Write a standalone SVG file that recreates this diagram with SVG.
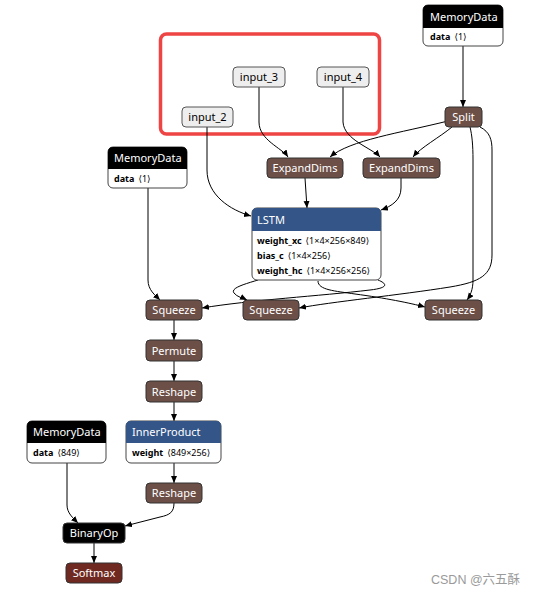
<svg xmlns="http://www.w3.org/2000/svg" width="546" height="597" viewBox="0 0 546 597">
<style>
text{font-family:"Noto Sans","DejaVu Sans",sans-serif;}
.t{font-size:11px;fill:#fff;text-anchor:middle;}
.th{font-size:11px;fill:#fff;}
.ti{font-size:11px;fill:#000;text-anchor:middle;}
.a{font-size:9px;fill:#000;}
.a tspan.b{font-weight:bold;}
.n{stroke:#333;stroke-width:1;}
.brown{fill:#6c4f47;}
.blk{fill:#000;}
.blue{fill:#335588;}
.red{fill:#702921;}
.inp{fill:#eee;stroke:#555;stroke-width:1;}
.body{fill:#fff;stroke:#444;stroke-width:1;}
.e{fill:none;stroke:#000;stroke-width:1;marker-end:url(#ah);}
</style>
<defs>
<marker id="ah" markerUnits="userSpaceOnUse" markerWidth="8" markerHeight="7" refX="7" refY="3" orient="auto">
<path d="M0,0 L7,3 L0,6 z" fill="#000"/>
</marker>
</defs>
<rect x="160.5" y="34" width="219" height="100" rx="6" fill="none" stroke="#ee4444" stroke-width="3.5"/>
<g id="edges">
<path class="e" d="M463,46 L463,107"/>
<path class="e" d="M259,87 L259,122 C259,140 282,148 288,157"/>
<path class="e" d="M343,87 L343,122 C344,140 372,148 380,157"/>
<path class="e" d="M448,121 C400,133 350,140 330,157"/>
<path class="e" d="M452,127 C440,137 420,148 413,157"/>
<path class="e" d="M305,178 L307,208"/>
<path class="e" d="M401,178 L401,188 C401,200 392,206 381,210"/>
<path class="e" d="M207,127 L207,170 C207,195 230,210 251,216"/>
<path class="e" d="M148,188 L148,280 C148,290 155,295 160,300"/>
<path class="e" d="M258,280 C245,284 230,288 234,293 C237,297 243,298 247,300"/>
<path class="e" d="M318,281 C318,290 335,291 355,294 C385,298 410,303 425,307"/>
<path class="e" d="M378,280 C388,284 388,288 370,290 C320,296 250,300 202,308"/>
<path class="e" d="M480,127 C490,132 492,140 492,150 L492,255 C492,275 480,282 450,287 C400,295 330,302 299,308"/>
<path class="e" d="M470,127 C472,135 473,145 473,160 L473,280 C473,290 470,296 467,300"/>
<path class="e" d="M174,320 L174,340"/>
<path class="e" d="M174,361 L174,381"/>
<path class="e" d="M174,402 L174,421"/>
<path class="e" d="M174,463 L174,483"/>
<path class="e" d="M67,463 L67,505 C67,513 73,518 78,523"/>
<path class="e" d="M174,503 C174,512 170,515 160,517 L125,526"/>
<path class="e" d="M94,543 L94,563"/>
</g>
<g id="md_top">
<rect class="body" x="423" y="5" width="80" height="41" rx="5"/>
<path class="blk" d="M423,28 V10 Q423,5 428,5 H498 Q503,5 503,10 V28 Z"/>
<text class="th" x="430" y="20.5">MemoryData</text>
<text class="a" x="430" y="40"><tspan class="b">data</tspan><tspan dx="4">⟨1⟩</tspan></text>
</g>
<g id="input_3"><rect class="inp" x="233" y="67" width="52" height="20" rx="4"/><text class="ti" x="259" y="81">input_3</text></g>
<g id="input_4"><rect class="inp" x="317" y="67" width="52" height="20" rx="4"/><text class="ti" x="343" y="81">input_4</text></g>
<g id="input_2"><rect class="inp" x="182" y="107" width="51" height="20" rx="4"/><text class="ti" x="207.5" y="121">input_2</text></g>
<g id="split"><rect class="n brown" x="445" y="107" width="37" height="20" rx="4"/><text class="t" x="463.5" y="121">Split</text></g>
<g id="md_left">
<rect class="body" x="108" y="147" width="79" height="41" rx="5"/>
<path class="blk" d="M108,169 V152 Q108,147 113,147 H182 Q187,147 187,152 V169 Z"/>
<text class="th" x="114" y="162">MemoryData</text>
<text class="a" x="114" y="182"><tspan class="b">data</tspan><tspan dx="4">⟨1⟩</tspan></text>
</g>
<g id="expand1"><rect class="n brown" x="267" y="158" width="76" height="20" rx="4"/><text class="t" x="305" y="172">ExpandDims</text></g>
<g id="expand2"><rect class="n brown" x="363" y="158" width="77" height="20" rx="4"/><text class="t" x="401.5" y="172">ExpandDims</text></g>
<g id="lstm">
<rect class="body" x="252" y="208" width="129" height="72" rx="5"/>
<path class="blue" d="M252,231 V213 Q252,208 257,208 H376 Q381,208 381,213 V231 Z"/>
<text class="th" x="257" y="223.5">LSTM</text>
<text class="a" x="257" y="243.5"><tspan class="b">weight_xc</tspan><tspan dx="4">⟨1×4×256×849⟩</tspan></text>
<text class="a" x="257" y="258.5"><tspan class="b">bias_c</tspan><tspan dx="4">⟨1×4×256⟩</tspan></text>
<text class="a" x="257" y="274"><tspan class="b">weight_hc</tspan><tspan dx="4">⟨1×4×256×256⟩</tspan></text>
</g>
<g id="squeeze1"><rect class="n brown" x="146" y="300" width="56" height="20" rx="4"/><text class="t" x="174" y="314">Squeeze</text></g>
<g id="squeeze2"><rect class="n brown" x="243" y="300" width="56" height="20" rx="4"/><text class="t" x="271" y="314">Squeeze</text></g>
<g id="squeeze3"><rect class="n brown" x="425" y="300" width="57" height="20" rx="4"/><text class="t" x="453.5" y="314">Squeeze</text></g>
<g id="permute"><rect class="n brown" x="146" y="340" width="56" height="21" rx="4"/><text class="t" x="174" y="354.5">Permute</text></g>
<g id="reshape1"><rect class="n brown" x="146" y="381" width="56" height="21" rx="4"/><text class="t" x="174" y="395.5">Reshape</text></g>
<g id="md_bottom">
<rect class="body" x="27" y="421" width="79" height="42" rx="5"/>
<path class="blk" d="M27,443 V426 Q27,421 32,421 H101 Q106,421 106,426 V443 Z"/>
<text class="th" x="33" y="436">MemoryData</text>
<text class="a" x="33" y="456"><tspan class="b">data</tspan><tspan dx="4">⟨849⟩</tspan></text>
</g>
<g id="innerproduct">
<rect class="body" x="126" y="421" width="95" height="42" rx="5"/>
<path class="blue" d="M126,443 V426 Q126,421 131,421 H216 Q221,421 221,426 V443 Z"/>
<text class="th" x="132" y="436">InnerProduct</text>
<text class="a" x="132" y="456"><tspan class="b">weight</tspan><tspan dx="4">⟨849×256⟩</tspan></text>
</g>
<g id="reshape2"><rect class="n brown" x="146" y="483" width="56" height="20" rx="4"/><text class="t" x="174" y="497">Reshape</text></g>
<g id="binaryop"><rect class="n blk" x="63" y="523" width="62" height="20" rx="4"/><text class="t" x="94" y="537">BinaryOp</text></g>
<g id="softmax"><rect class="n red" x="66" y="563" width="56" height="20" rx="4"/><text class="t" x="94" y="577">Softmax</text></g>
<text x="431" y="584" style="font-family:'Liberation Sans','Noto Sans CJK SC',sans-serif;font-size:12.5px;fill:#9a9a9a;">CSDN @六五酥</text>
</svg>
